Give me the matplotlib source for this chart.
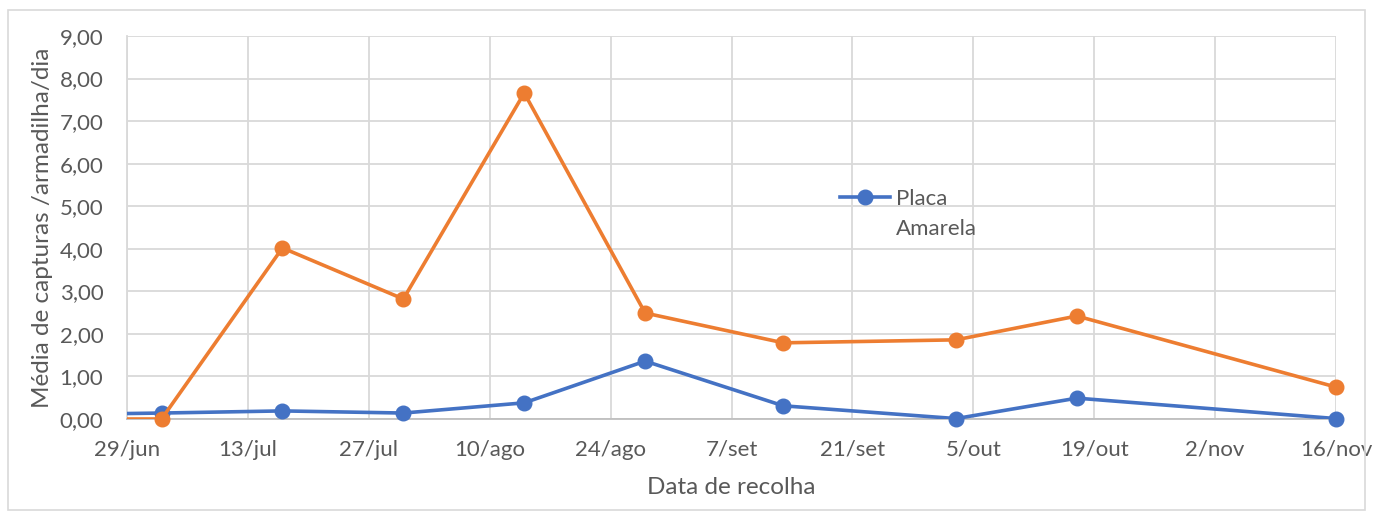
import matplotlib
matplotlib.use("Agg")
import matplotlib.pyplot as plt
from matplotlib.ticker import FuncFormatter, MultipleLocator
from matplotlib.patches import Rectangle
from matplotlib.lines import Line2D
import datetime as dt

# Data
dates = ["2021-06-19", "2021-07-03", "2021-07-17", "2021-07-31", "2021-08-14",
         "2021-08-28", "2021-09-13", "2021-10-03", "2021-10-17", "2021-11-16"]
placa_amarela = [0.10, 0.14, 0.19, 0.14, 0.38, 1.36, 0.31, 0.01, 0.49, 0.01]
serie_laranja = [0.00, 0.00, 4.02, 2.82, 7.66, 2.49, 1.79, 1.86, 2.42, 0.75]
tick_dates = ["2021-06-29", "2021-07-13", "2021-07-27", "2021-08-10", "2021-08-24",
              "2021-09-07", "2021-09-21", "2021-10-05", "2021-10-19", "2021-11-02",
              "2021-11-16"]
tick_labels = ["29/jun", "13/jul", "27/jul", "10/ago", "24/ago", "7/set",
               "21/set", "5/out", "19/out", "2/nov", "16/nov"]
legend_words = ["Placa", "Amarela"]

plt.rcParams['font.family'] = ['Lato', 'DejaVu Sans']

x = [dt.datetime.strptime(d, "%Y-%m-%d") for d in dates]
xt = [dt.datetime.strptime(d, "%Y-%m-%d") for d in tick_dates]
xmin, xmax = xt[0], xt[-1]

blue = "#4472C4"
orange = "#ED7D31"
gray_txt = "#595959"
grid_c = "#D9D9D9"

fig = plt.figure(figsize=(13.73, 5.17), dpi=100)
fig.patches.append(Rectangle((8/1373, 1-510/517), (1365-8)/1373, (510-10)/517,
                             transform=fig.transFigure, fill=False,
                             edgecolor=grid_c, linewidth=1.2))
ax = fig.add_axes([127/1373, 1-419/517, (1336-127)/1373, (419-36)/517])

inside = [i for i, d in enumerate(x) if xmin <= d <= xmax]

ax.plot(x, placa_amarela, color=blue, lw=2.6, zorder=3, solid_capstyle='round')
ax.plot(x, serie_laranja, color=orange, lw=2.6, zorder=4, solid_capstyle='round')
ax.plot([x[i] for i in inside], [placa_amarela[i] for i in inside], ls='none',
        marker='o', ms=10.5, color=blue, zorder=3, clip_on=False)
ax.plot([x[i] for i in inside], [serie_laranja[i] for i in inside], ls='none',
        marker='o', ms=10.5, color=orange, zorder=4, clip_on=False)

ax.set_xlim(xmin, xmax)
ax.set_ylim(0, 9)
ax.set_xticks(xt)
ax.set_xticklabels(tick_labels)
ax.yaxis.set_major_locator(MultipleLocator(1))
ax.yaxis.set_major_formatter(FuncFormatter(lambda v, p: f"{v:.2f}".replace(".", ",")))

ax.grid(True, color=grid_c, lw=1.3)
ax.set_axisbelow(True)
for s in ['top', 'right']:
    ax.spines[s].set_visible(False)
ax.spines['left'].set_color(grid_c)
ax.spines['left'].set_linewidth(1.3)
ax.spines['bottom'].set_color("#BFBFBF")
ax.spines['bottom'].set_linewidth(1.3)
ax.tick_params(length=0, labelsize=16, colors=gray_txt)
ax.tick_params(axis='x', pad=15)
ax.tick_params(axis='y', pad=17)

ax.set_xlabel("Data de recolha", fontsize=17.5, color=gray_txt, labelpad=12)
ax.set_ylabel("Média de capturas /armadilha/dia", fontsize=17.5, color=gray_txt, labelpad=4.5)

h1 = Line2D([0], [0], color=blue, lw=2.6, marker='o', ms=10.5)
h2 = Line2D([0], [0], color='none', lw=0)
leg = ax.legend([h1, h2], legend_words, loc='upper left',
                bbox_to_anchor=(820/1373, 1-169/517), bbox_transform=fig.transFigure,
                frameon=False, fontsize=16, handlelength=2.25, handletextpad=0.28,
                labelspacing=0.45, labelcolor=gray_txt)

fig.savefig("out.png", dpi=100)
